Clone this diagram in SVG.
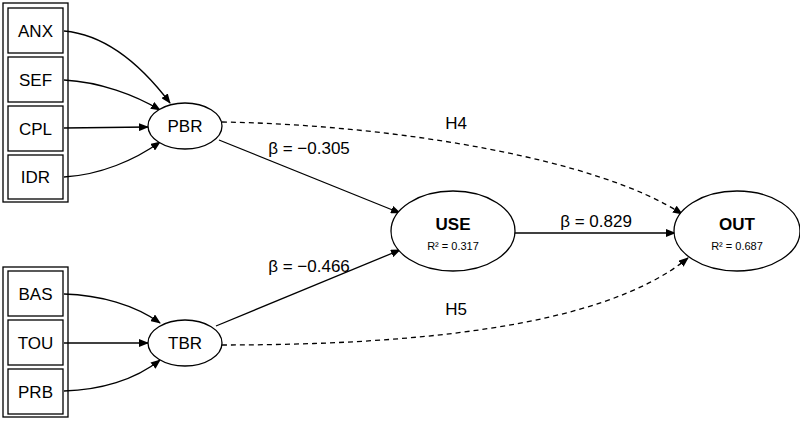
<svg xmlns="http://www.w3.org/2000/svg" width="800" height="423" viewBox="0 0 800 423">
<defs><marker id="ah" markerWidth="10" markerHeight="8" refX="9" refY="4" orient="auto" markerUnits="userSpaceOnUse"><path d="M0,0 L10,4 L0,8 z" fill="#000"/></marker></defs>
<style>
text{font-family:"Liberation Sans",Arial,sans-serif;fill:#000}
.b{fill:#fff;stroke:#000;stroke-width:1.3}
.e{fill:#fff;stroke:#000;stroke-width:1.3}
.t{font-size:17px;text-anchor:middle}
.c{fill:none;stroke:#000;stroke-width:1.3;marker-end:url(#ah)}
.d{stroke-dasharray:5,4}
</style>
<rect class="b" x="3" y="3" width="65" height="199"/>
<rect class="b" x="3" y="267" width="65" height="150"/>
<g id="ANX"><rect class="b" x="8" y="8" width="55" height="45"/><text class="t" x="35.5" y="37">ANX</text></g>
<g id="SEF"><rect class="b" x="8" y="57" width="55" height="45"/><text class="t" x="35.5" y="86">SEF</text></g>
<g id="CPL"><rect class="b" x="8" y="106" width="55" height="45"/><text class="t" x="35.5" y="135">CPL</text></g>
<g id="IDR"><rect class="b" x="8" y="155" width="55" height="44"/><text class="t" x="35.5" y="183">IDR</text></g>
<g id="BAS"><rect class="b" x="8" y="271" width="55" height="45"/><text class="t" x="35.5" y="300">BAS</text></g>
<g id="TOU"><rect class="b" x="8" y="320" width="55" height="45"/><text class="t" x="35.5" y="349">TOU</text></g>
<g id="PRB"><rect class="b" x="8" y="369" width="55" height="45"/><text class="t" x="35.5" y="398">PRB</text></g>
<g id="connectors">
<path class="c" d="M64,31 C110,35 145,70 170,103"/>
<path class="c" d="M64,80 C100,82 135,95 160,110"/>
<path class="c" d="M64,128 L148,127"/>
<path class="c" d="M64,177 C100,175 135,160 160,142"/>
<path class="c" d="M64,294 C100,295 135,305 160,323"/>
<path class="c" d="M64,343 L148,343"/>
<path class="c" d="M64,391 C100,390 135,380 160,360"/>
<path class="c" d="M219,140 L400,213"/>
<path class="c" d="M216,326 L400,250"/>
<path class="c" d="M515,233 L675,233"/>
<path class="c d" d="M222,122 C400,125 600,160 682,214"/>
<path class="c d" d="M222,345 C400,345 600,330 688,258"/>
</g>
<g id="PBR"><ellipse class="e" cx="185" cy="126" rx="37" ry="23"/><text class="t" x="185" y="132">PBR</text></g>
<g id="TBR"><ellipse class="e" cx="185" cy="343" rx="37" ry="23"/><text class="t" x="185" y="349">TBR</text></g>
<g id="USE"><ellipse class="e" cx="453" cy="231" rx="62" ry="40"/><text class="t" x="453" y="230" font-weight="bold" font-size="18">USE</text><text x="453" y="250" font-size="11" text-anchor="middle">R² = 0.317</text></g>
<g id="OUT"><ellipse class="e" cx="737" cy="231" rx="63" ry="40"/><text class="t" x="737" y="230" font-weight="bold" font-size="18">OUT</text><text x="737" y="250" font-size="11" text-anchor="middle">R² = 0.687</text></g>
<text class="t" x="309" y="154">β = −0.305</text>
<text class="t" x="309" y="272">β = −0.466</text>
<text class="t" x="596" y="227">β = 0.829</text>
<text class="t" x="456" y="129">H4</text>
<text class="t" x="456" y="315">H5</text>
</svg>
